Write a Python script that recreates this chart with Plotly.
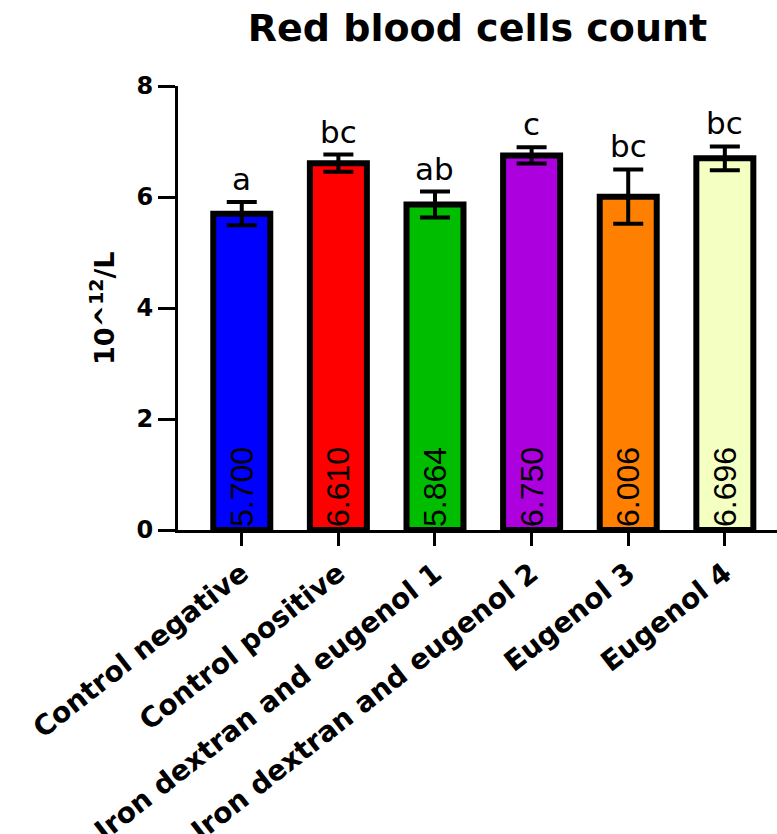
import plotly.graph_objects as go

categories = ["Control negative", "Control positive", "Iron dextran and eugenol 1",
              "Iron dextran and eugenol 2", "Eugenol 3", "Eugenol 4"]
means = [5.700, 6.610, 5.864, 6.750, 6.006, 6.696]
errors = [0.21, 0.155, 0.235, 0.145, 0.49, 0.215]
value_labels = ["5.700", "6.610", "5.864", "6.750", "6.006", "6.696"]
letters = ["a", "bc", "ab", "c", "bc", "bc"]
colors = ["#0000FF", "#FF0000", "#00BD00", "#AC00DF", "#FF8000", "#F4FFC2"]

BOLD = "DejaVu Sans"

fig = go.Figure()
fig.add_trace(go.Bar(
    x=categories, y=means,
    width=0.59,
    marker=dict(color=colors, line=dict(color="black", width=6)),
    error_y=dict(type="data", array=errors, visible=True, color="black",
                 thickness=4, width=15),
    text=value_labels, textposition="inside", insidetextanchor="start",
    textangle=-90, constraintext="none",
    textfont=dict(family="Liberation Sans, Arial", size=32, color="black"),
    cliponaxis=False,
))

for c, m, e, t in zip(categories, means, errors, letters):
    fig.add_annotation(x=c, y=m + e, xref="x", yref="y", text=t, showarrow=False,
                       yanchor="bottom", yshift=3,
                       font=dict(family="DejaVu Sans", size=31, color="black"))

fig.add_annotation(xref="paper", yref="paper", x=0, y=0.5, xshift=-76,
                   text="<b>10^<sup>12</sup>/L</b>", textangle=-90, showarrow=False,
                   xanchor="center", yanchor="middle",
                   font=dict(family=BOLD, size=27, color="black"))

fig.update_layout(
    width=777, height=834,
    margin=dict(l=178, r=0, t=86, b=304, autoexpand=False),
    paper_bgcolor="white", plot_bgcolor="white",
    showlegend=False,
    title=dict(text="<b>Red blood cells count</b>", x=0.5, xref="paper", xanchor="center",
               y=1 - 28 / 834, yref="container", yanchor="middle",
               font=dict(family=BOLD, size=38, color="black")),
    xaxis=dict(range=[-0.66, 5.54], showline=True, linecolor="black", linewidth=3,
               ticks="outside", ticklen=13, tickwidth=3, tickcolor="black",
               tickangle=-38, showgrid=False, zeroline=False,
               tickfont=dict(family=BOLD, size=28, color="black")),
    yaxis=dict(range=[0, 8], dtick=2, showline=True, linecolor="black", linewidth=3,
               ticks="outside", ticklen=17, tickwidth=3, tickcolor="black",
               showgrid=False, zeroline=False,
               tickfont=dict(family=BOLD, size=24, color="black")),
)
fig.update_xaxes(tickprefix="<b>", ticksuffix="</b>")
fig.update_yaxes(tickprefix="<b>", ticksuffix="</b>")

fig.write_html("out.html", config={"displayModeBar": False},
               post_script="document.body.style.margin='0px';")
